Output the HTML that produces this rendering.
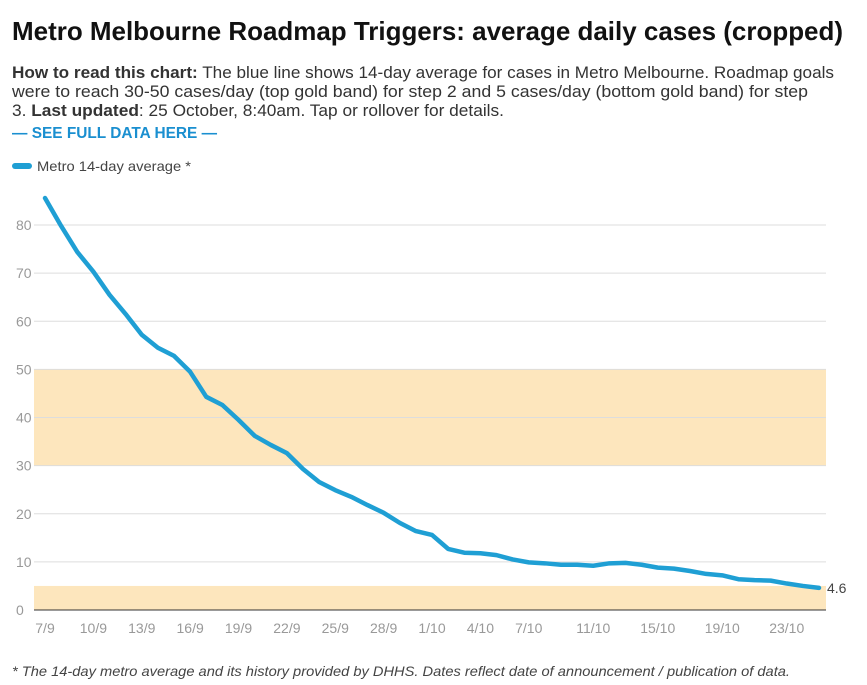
<!DOCTYPE html>
<html><head><meta charset="utf-8"><style>
html,body{margin:0;padding:0;background:#fff;}
svg{display:block;font-family:"Liberation Sans",sans-serif;}
</style></head><body>
<svg id="chart" width="867" height="685" viewBox="0 0 867 685">
<text x="12" y="40" font-size="26" font-weight="bold" fill="#111" textLength="831" lengthAdjust="spacingAndGlyphs">Metro Melbourne Roadmap Triggers: average daily cases (cropped)</text>
<text x="12" y="78" font-size="16.5" fill="#333" textLength="822" lengthAdjust="spacingAndGlyphs"><tspan font-weight="bold">How to read this chart:</tspan> The blue line shows 14-day average for cases in Metro Melbourne. Roadmap goals</text>
<text x="12" y="97" font-size="16.5" fill="#333" textLength="796" lengthAdjust="spacingAndGlyphs">were to reach 30-50 cases/day (top gold band) for step 2 and 5 cases/day (bottom gold band) for step</text>
<text x="12" y="116" font-size="16.5" fill="#333" textLength="492" lengthAdjust="spacingAndGlyphs">3.  <tspan font-weight="bold">Last updated</tspan>: 25 October, 8:40am. Tap or rollover for details.</text>
<text x="12" y="138" font-size="16" font-weight="bold" fill="#1a8fd0" textLength="205" lengthAdjust="spacingAndGlyphs">— SEE FULL DATA HERE —</text>
<rect x="12" y="163" width="20" height="6" rx="3" fill="#1f9fd4"/>
<text x="37" y="171" font-size="14" fill="#444" textLength="154" lengthAdjust="spacingAndGlyphs">Metro 14-day average *</text>
<g id="plot"></g>
<text x="12" y="676" font-size="14" font-style="italic" fill="#444" textLength="778" lengthAdjust="spacingAndGlyphs">* The 14-day metro average and its history provided by DHHS. Dates reflect date of announcement / publication of data.</text>
</svg>
<script>
const dates = ["7/9","8/9","9/9","10/9","11/9","12/9","13/9","14/9","15/9","16/9","17/9","18/9","19/9","20/9","21/9","22/9","23/9","24/9","25/9","26/9","27/9","28/9","29/9","30/9","1/10","2/10","3/10","4/10","5/10","6/10","7/10","8/10","9/10","10/10","11/10","12/10","13/10","14/10","15/10","16/10","17/10","18/10","19/10","20/10","21/10","22/10","23/10","24/10","25/10"];
const values = [85.6,79.8,74.4,70.3,65.5,61.5,57.2,54.5,52.8,49.5,44.3,42.6,39.5,36.2,34.3,32.6,29.3,26.6,24.9,23.5,21.8,20.2,18.1,16.4,15.6,12.7,11.9,11.8,11.4,10.5,9.9,9.7,9.4,9.4,9.2,9.7,9.8,9.4,8.8,8.6,8.1,7.5,7.2,6.4,6.2,6.1,5.5,5.0,4.6];
const yTicks = [0,10,20,30,40,50,60,70,80];
const xTickLabels = ["7/9","10/9","13/9","16/9","19/9","22/9","25/9","28/9","1/10","4/10","7/10","11/10","15/10","19/10","23/10"];
const bands = [[30,50],[0,5]];
const NS="http://www.w3.org/2000/svg";
const plot=document.getElementById('plot');
const x0=45,x1=819,left=34,right=826;
const xs=i=>x0+(x1-x0)*i/(dates.length-1);
const ys=v=>610-v*(610-225)/80;
function mk(tag,attrs){const e=document.createElementNS(NS,tag);for(const k in attrs)e.setAttribute(k,attrs[k]);plot.appendChild(e);return e;}
bands.forEach(b=>{
  const r=mk('rect',{x:left,y:ys(b[1]),width:right-left,height:ys(b[0])-ys(b[1]),fill:'#fde6bd'});
  
  
});
yTicks.forEach(t=>{
  if(t>0){const l=mk('line',{x1:left,x2:right,y1:ys(t),y2:ys(t),stroke:'#ddd','stroke-width':1});
  
  }
  const tx=mk('text',{x:16,y:ys(t)+5,'font-size':14,fill:'#999'});
  tx.textContent=t;
  
  
});
const ax=mk('line',{x1:left,x2:right,y1:610,y2:610,stroke:'#333','stroke-width':1});


xTickLabels.forEach(lbl=>{
  const i=dates.indexOf(lbl);
  const tx=mk('text',{x:xs(i),y:633,'font-size':14,fill:'#999','text-anchor':'middle'});
  tx.textContent=lbl;
  
  
});
const p=mk('polyline',{points:values.map((v,i)=>xs(i)+','+ys(v)).join(' '),fill:'none',stroke:'#1f9fd4','stroke-width':4.5,'stroke-linejoin':'round','stroke-linecap':'round'});


const last=values.length-1;
const ll=mk('text',{x:xs(last)+8,y:ys(values[last])+5,'font-size':14,fill:'#444'});
ll.textContent=values[last];


</script>
</body></html>
